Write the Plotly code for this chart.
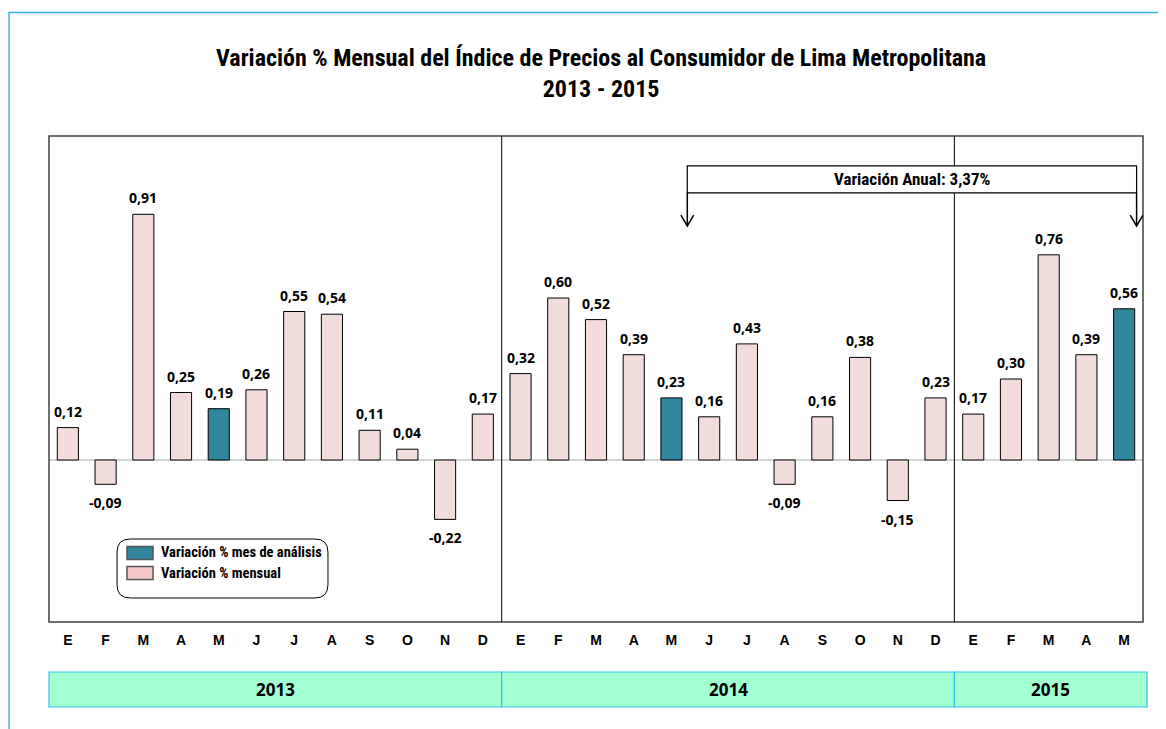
import plotly.graph_objects as go

months = ["E", "F", "M", "A", "M", "J", "J", "A", "S", "O", "N", "D",
          "E", "F", "M", "A", "M", "J", "J", "A", "S", "O", "N", "D",
          "E", "F", "M", "A", "M"]
values = [0.12, -0.09, 0.91, 0.25, 0.19, 0.26, 0.55, 0.54, 0.11, 0.04, -0.22, 0.17,
          0.32, 0.60, 0.52, 0.39, 0.23, 0.16, 0.43, -0.09, 0.16, 0.38, -0.15, 0.23,
          0.17, 0.30, 0.76, 0.39, 0.56]
highlight_idx = [4, 16, 28]
years = ["2013", "2014", "2015"]
year_counts = [12, 12, 5]
annual_text = "Variación Anual: 3,37%"
annual_from, annual_to = 16, 28

PINK = "#F2DCDB"
BLUE = "#31859C"
NARROW = "Liberation Sans Narrow, Arial Narrow, Roboto Condensed, Liberation Sans, sans-serif"
NUMF = "Open Sans, Carlito, sans-serif"

N = len(values)
x_all = list(range(N))
x_p = [i for i in x_all if i not in highlight_idx]
x_h = [i for i in x_all if i in highlight_idx]

fig = go.Figure()
fig.add_trace(go.Bar(x=x_p, y=[values[i] for i in x_p], name="Variación % mensual",
                     marker=dict(color=PINK, line=dict(color="black", width=1)),
                     width=0.56, showlegend=False, hoverinfo="y"))
fig.add_trace(go.Bar(x=x_h, y=[values[i] for i in x_h], name="Variación % mes de análisis",
                     marker=dict(color=BLUE, line=dict(color="black", width=1)),
                     width=0.56, showlegend=False, hoverinfo="y"))

ann = []
for i, v in enumerate(values):
    lab = f"{v:.2f}".replace(".", ",")
    ann.append(dict(x=i, y=v, text=f"<b>{lab}</b>", showarrow=False,
                    yanchor="bottom" if v >= 0 else "top",
                    yshift=5 if v >= 0 else -7,
                    font=dict(family=NUMF, size=14, color="black")))

shapes = []
# plot border
shapes.append(dict(type="rect", xref="paper", yref="paper", x0=0, x1=1, y0=0, y1=1,
                   line=dict(color="#404040", width=1.5)))
# outer light-blue frame
shapes.append(dict(type="rect", xref="paper", yref="paper", x0=-0.0365, x1=1.1, y0=-0.3, y1=1.2541,
                   line=dict(color="#33B5E8", width=1.5), layer="below"))
# zero line
shapes.append(dict(type="line", xref="paper", yref="y", x0=0, x1=1, y0=0, y1=0,
                   line=dict(color="#A6A6A6", width=1.2), layer="below"))
# year separators and year band (paper coords derived from category index)
start = 0
for k, (yr, n) in enumerate(zip(years, year_counts)):
    p0 = start / N
    p1 = (start + n) / N + (0.0037 if k == len(years) - 1 else 0)
    if k > 0:
        shapes.append(dict(type="line", xref="paper", yref="paper", x0=p0, x1=p0, y0=0, y1=1,
                           line=dict(color="black", width=1)))
    shapes.append(dict(type="rect", xref="paper", yref="paper", x0=p0, x1=p1, y0=-0.1749, y1=-0.1029,
                       fillcolor="#A3FFD1", line=dict(color="#33C4F0", width=1.2)))
    ann.append(dict(x=(p0 + p1) / 2, y=-0.1389, xref="paper", yref="paper", text=f"<b>{yr}</b>",
                    showarrow=False, yanchor="middle", xanchor="center",
                    font=dict(family=NUMF, size=17, color="black")))
    start += n

# annual variation box with arrows
ax0 = annual_from + 0.42
ax1 = annual_to + 0.33
by0, by1, tip = 0.989, 1.089, 0.867
shapes.append(dict(type="rect", xref="x", yref="y", x0=ax0, x1=ax1, y0=by0, y1=by1,
                   fillcolor="white", line=dict(color="black", width=1.2)))
for ax in (ax0, ax1):
    shapes.append(dict(type="line", xref="x", yref="y", x0=ax, x1=ax, y0=by0, y1=tip,
                       line=dict(color="black", width=1.5)))
    shapes.append(dict(type="path", xref="x", yref="y",
                       path=f"M {ax-0.17},{tip+0.04} L {ax},{tip} L {ax+0.17},{tip+0.04}",
                       line=dict(color="black", width=1.5)))
ann.append(dict(x=(ax0 + ax1) / 2, y=(by0 + by1) / 2, text=f"<b>{annual_text}</b>",
                showarrow=False, yanchor="middle", xanchor="center",
                font=dict(family=NARROW, size=17, color="black")))

# legend box
lx0, lx1, ly0, ly1 = 0.0622, 0.255, 0.0494, 0.1708
r = 0.012
ry = r * 1094 / 486
shapes.append(dict(type="path", xref="paper", yref="paper",
                   path=(f"M {lx0+r},{ly1} L {lx1-r},{ly1} Q {lx1},{ly1} {lx1},{ly1-ry} "
                         f"L {lx1},{ly0+ry} Q {lx1},{ly0} {lx1-r},{ly0} L {lx0+r},{ly0} "
                         f"Q {lx0},{ly0} {lx0},{ly0+ry} L {lx0},{ly1-ry} Q {lx0},{ly1} {lx0+r},{ly1} Z"),
                   fillcolor="white", line=dict(color="black", width=1)))
leg_items = [("Variación % mes de análisis", BLUE, 0.1420), ("Variación % mensual", "#F4C7C9", 0.1008)]
for name, col, yc in leg_items:
    shapes.append(dict(type="rect", xref="paper", yref="paper",
                       x0=(127 - 49) / 1094, x1=(153 - 49) / 1094, y0=yc - 0.0134, y1=yc + 0.0134,
                       fillcolor=col, line=dict(color="#555555", width=1.5)))
    ann.append(dict(x=(159 - 49) / 1094, y=yc, xref="paper", yref="paper", text=f"<b>{name}</b>",
                    xanchor="left", yanchor="middle", showarrow=False,
                    font=dict(family=NARROW, size=14.5, color="black")))

# title
ann.append(dict(x=(601 - 49) / 1094, y=(622 - 73) / 486, xref="paper", yref="paper",
                text="<b>Variación % Mensual del Índice de Precios al Consumidor de Lima Metropolitana<br>2013 - 2015</b>",
                showarrow=False, xanchor="center", yanchor="middle",
                font=dict(family=NARROW, size=24, color="black")))

fig.update_layout(
    width=1158, height=721,
    margin=dict(l=41, r=23, t=128, b=107),
    paper_bgcolor="white", plot_bgcolor="white",
    barmode="overlay",
    xaxis=dict(range=[-0.5, N - 0.5], tickmode="array", tickvals=x_all,
               ticktext=[f"<b>{m}</b>" for m in months], showgrid=False, zeroline=False,
               ticks="outside", ticklen=5, tickcolor="rgba(0,0,0,0)",
               tickfont=dict(family="Liberation Sans, Arial, sans-serif", size=14, color="black"),
               fixedrange=True),
    yaxis=dict(range=[-0.6, 1.2], showticklabels=False, showgrid=False, zeroline=False,
               fixedrange=True),
    annotations=ann,
    shapes=shapes,
    showlegend=False,
)

fig.write_html("out.html")
